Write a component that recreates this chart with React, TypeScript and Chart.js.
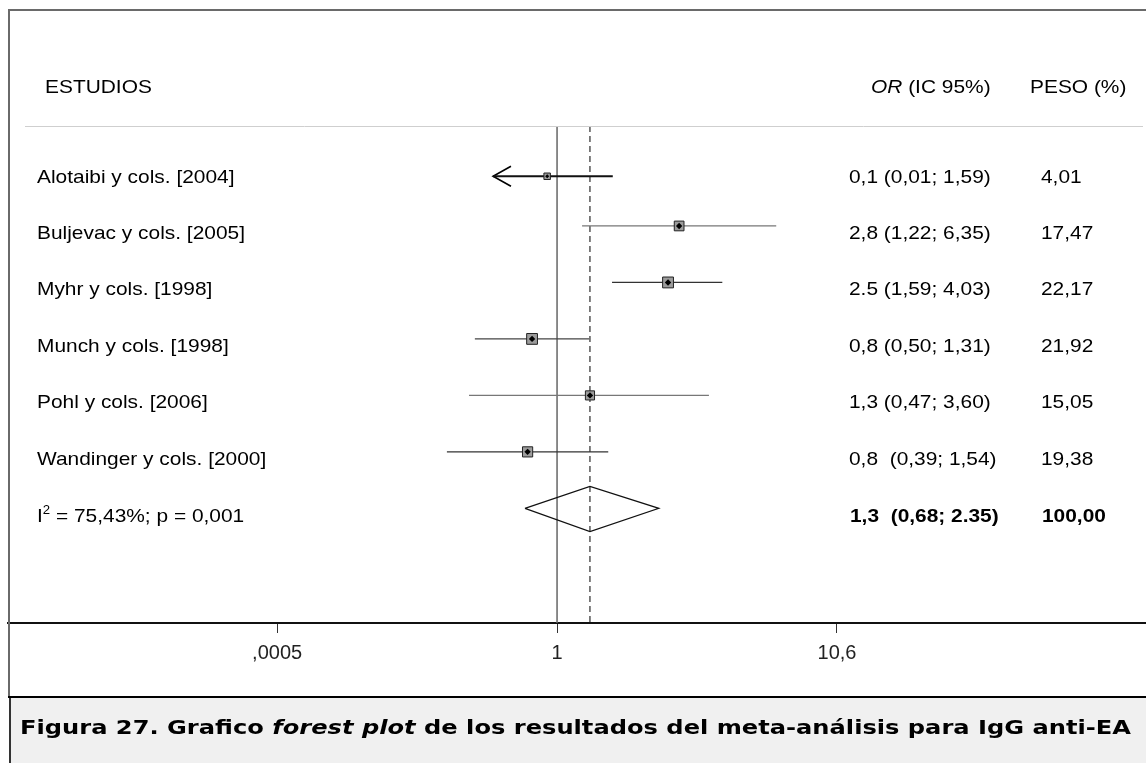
import React, { useEffect, useRef } from "react";
import { Chart, registerables } from "chart.js";
Chart.register(...registerables);

// ---------- data ----------
const studies = [
  "Alotaibi y cols. [2004]",
  "Buljevac y cols. [2005]",
  "Myhr y cols. [1998]",
  "Munch y cols. [1998]",
  "Pohl y cols. [2006]",
  "Wandinger y cols. [2000]",
];
const orTexts = [
  "0,1 (0,01; 1,59)",
  "2,8 (1,22; 6,35)",
  "2.5 (1,59; 4,03)",
  "0,8 (0,50; 1,31)",
  "1,3 (0,47; 3,60)",
  "0,8  (0,39; 1,54)",
];
const weightTexts = ["4,01", "17,47", "22,17", "21,92", "15,05", "19,38"];
const weights = [4.01, 17.47, 22.17, 21.92, 15.05, 19.38];
// values as drawn in the figure (log scale)
const estimates = [0.92, 2.8, 2.55, 0.81, 1.32, 0.78];
const lowerCI = [0.583, 1.235, 1.59, 0.5, 0.476, 0.395];
const upperCI = [1.6, 6.35, 4.03, 1.31, 3.6, 1.54];
const rows = [0.12, 1, 2, 3, 4, 5];
const truncatedStudy = 0; // CI continues beyond the drawn range (arrow)

const pooledRow = 6;
const pooledEstimate = 1.32;
const pooledLower = 0.763;
const pooledUpper = 2.36;
const pooledText = "1,3  (0,68; 2.35)";
const pooledWeight = "100,00";
const heterogeneityText = " = 75,43%; p = 0,001";

const tickValues = [1 / 10.6, 1, 10.6];
const tickLabels = [",0005", "1", "10,6"];

const captionRuns = [
  { t: "Figura 27. Grafico ", italic: false },
  { t: "forest plot", italic: true },
  { t: " de los resultados del meta-análisis para IgG anti-EA", italic: false },
];

// ---------- helpers ----------
const SANS = '"Liberation Sans", Arial, sans-serif';
const SX = 1.1;

type Run = { t: string; font: string; dy?: number };

function drawRuns(ctx: CanvasRenderingContext2D, runs: Run[], x: number, baseline: number, sx: number) {
  let cx = x;
  for (const r of runs) {
    ctx.font = r.font;
    const w = ctx.measureText(r.t).width;
    ctx.save();
    ctx.translate(cx, baseline + (r.dy || 0));
    ctx.scale(sx, 1);
    ctx.fillText(r.t, 0, 0);
    ctx.restore();
    cx += w * sx;
  }
  return cx - x;
}
function runsWidth(ctx: CanvasRenderingContext2D, runs: Run[]) {
  let w = 0;
  for (const r of runs) {
    ctx.font = r.font;
    w += ctx.measureText(r.t).width;
  }
  return w;
}

const framePlugin = {
  id: "frame",
  beforeDraw(chart: any) {
    const ctx = chart.ctx as CanvasRenderingContext2D;
    ctx.save();
    ctx.fillStyle = "#ffffff";
    ctx.fillRect(0, 0, chart.width, chart.height);
    ctx.restore();
  },
  afterDraw(chart: any) {
    const ctx = chart.ctx as CanvasRenderingContext2D;
    const ys = chart.scales.y;
    ctx.save();
    // separator under header
    ctx.strokeStyle = "#cfcfcf";
    ctx.lineWidth = 1;
    ctx.beginPath();
    ctx.moveTo(25, 126.5);
    ctx.lineTo(1143, 126.5);
    ctx.stroke();
    // outer frame
    ctx.strokeStyle = "#6a6a6a";
    ctx.lineWidth = 2;
    ctx.beginPath();
    ctx.moveTo(8, 10);
    ctx.lineTo(1146, 10);
    ctx.moveTo(9, 9);
    ctx.lineTo(9, 697);
    ctx.stroke();
    // caption box
    ctx.fillStyle = "#f0f0f0";
    ctx.fillRect(10, 698, 1136, 65);
    ctx.strokeStyle = "#333";
    ctx.beginPath();
    ctx.moveTo(10, 697);
    ctx.lineTo(10, 763);
    ctx.stroke();
    ctx.strokeStyle = "#000";
    ctx.beginPath();
    ctx.moveTo(8, 697);
    ctx.lineTo(1146, 697);
    ctx.stroke();

    // texts
    ctx.fillStyle = "#000";
    ctx.textBaseline = "alphabetic";
    ctx.textAlign = "left";
    const reg = `19px ${SANS}`;
    const bold = `bold 19px ${SANS}`;
    const ital = `italic 19px ${SANS}`;
    const headerBase = 93;
    drawRuns(ctx, [{ t: "ESTUDIOS", font: reg }], 45, headerBase, SX);
    drawRuns(ctx, [{ t: "OR", font: ital }, { t: " (IC 95%)", font: reg }], 871, headerBase, SX);
    drawRuns(ctx, [{ t: "PESO (%)", font: reg }], 1030, headerBase, SX);

    const off = 6.8;
    studies.forEach((s, i) => {
      const yb = ys.getPixelForValue(i + 0.11) + off;
      drawRuns(ctx, [{ t: s, font: reg }], 37, yb, SX);
      drawRuns(ctx, [{ t: orTexts[i], font: reg }], 849, yb, SX);
      drawRuns(ctx, [{ t: weightTexts[i], font: reg }], 1041, yb, SX);
    });
    const pb = ys.getPixelForValue(pooledRow + 0.12) + off;
    drawRuns(
      ctx,
      [
        { t: "I", font: reg },
        { t: "2", font: `12px ${SANS}`, dy: -8 },
        { t: heterogeneityText, font: reg },
      ],
      37,
      pb,
      SX
    );
    drawRuns(ctx, [{ t: pooledText, font: bold }], 850, pb, SX);
    drawRuns(ctx, [{ t: pooledWeight, font: bold }], 1042, pb, SX);

    // caption
    const capFam = '"DejaVu Sans", Verdana, sans-serif';
    const cruns: Run[] = captionRuns.map((r) => ({
      t: r.t,
      font: `${r.italic ? "italic " : ""}bold 19px ${capFam}`,
    }));
    const cw = runsWidth(ctx, cruns);
    drawRuns(ctx, cruns, 20, 734, 1111 / cw);
    ctx.restore();
  },
};

export default function App() {
  const ref = useRef<HTMLCanvasElement | null>(null);
  useEffect(() => {
    if (!ref.current) return;
    const yMin = -0.77;
    const yMax = 8.03;
    const r0 = rows[truncatedStudy];
    const line = (data: any[], color: string, width: number, order: number, dash: number[] = []) => ({
      type: "scatter",
      data,
      showLine: true,
      borderColor: color,
      borderWidth: width,
      borderDash: dash,
      pointRadius: 0,
      pointHoverRadius: 0,
      fill: false,
      tension: 0,
      order,
    });
    const ciColors = ["#111", "#777", "#333", "#444", "#777", "#333"];
    const datasets: any[] = [
      {
        type: "scatter",
        data: estimates.map((x, i) => ({ x, y: rows[i] })),
        pointStyle: "rectRot",
        pointRadius: weights.map((w) => (w < 10 ? 2 : 3.2)),
        backgroundColor: "#000",
        borderColor: "#000",
        borderWidth: 0,
        order: 0,
      },
      {
        type: "scatter",
        data: estimates.map((x, i) => ({ x, y: rows[i] })),
        pointStyle: "rect",
        pointRadius: weights.map((w) => 3.9 + w * 0.17),
        backgroundColor: "#9c9c9c",
        borderColor: "#222",
        borderWidth: 1,
        order: 1,
      },
      ...estimates.map((_, i) =>
        line(
          [
            { x: lowerCI[i], y: rows[i] },
            { x: upperCI[i], y: rows[i] },
          ],
          ciColors[i],
          i === truncatedStudy ? 2 : 1.3,
          2
        )
      ),
      line(
        [
          { x: 0.678, y: r0 - 0.177 },
          { x: lowerCI[truncatedStudy], y: r0 },
          { x: 0.678, y: r0 + 0.177 },
        ],
        "#000",
        1.6,
        2
      ),
      line(
        [
          { x: pooledLower, y: pooledRow },
          { x: pooledEstimate, y: pooledRow - 0.39 },
          { x: pooledUpper, y: pooledRow },
          { x: pooledEstimate, y: pooledRow + 0.41 },
          { x: pooledLower, y: pooledRow },
        ],
        "#111",
        1.2,
        2
      ),
      line(
        [
          { x: 1, y: yMin },
          { x: 1, y: yMax },
        ],
        "#666",
        1.5,
        3
      ),
      line(
        [
          { x: pooledEstimate, y: yMin },
          { x: pooledEstimate, y: yMax },
        ],
        "#000",
        1,
        3,
        [6, 4]
      ),
    ];
    const chart = new Chart(ref.current, {
      type: "scatter",
      data: { datasets },
      options: {
        responsive: false,
        animation: false,
        events: [],
        layout: { autoPadding: false, padding: { left: 8, right: 0, top: 126, bottom: 65 } },
        plugins: { legend: { display: false }, tooltip: { enabled: false } },
        scales: {
          x: {
            type: "logarithmic",
            min: 0.00975,
            max: 143.6,
            bounds: "data",
            afterBuildTicks: (scale: any) => {
              scale.ticks = tickValues.map((v) => ({ value: v }));
            },
            afterFit: (scale: any) => {
              scale.height = 75;
              scale.paddingLeft = 0;
              scale.paddingRight = 0;
            },
            ticks: {
              autoSkip: false,
              maxRotation: 0,
              color: "#222",
              padding: 8,
              font: { family: SANS, size: 20 },
              callback: (_v: any, i: number) => tickLabels[i],
            },
            grid: {
              display: true,
              drawOnChartArea: false,
              drawTicks: true,
              tickLength: 10,
              color: "#333",
              lineWidth: 1,
            },
            border: { display: true, color: "#111", width: 2 },
          },
          y: {
            type: "linear",
            display: false,
            reverse: true,
            min: yMin,
            max: yMax,
          },
        },
      },
      plugins: [framePlugin],
    } as any);
    return () => chart.destroy();
  }, []);
  return (
    <div style={{ position: "absolute", left: 0, top: 0, width: 1146, height: 763 }}>
      <canvas ref={ref} width={1146} height={763} style={{ display: "block" }} />
    </div>
  );
}
